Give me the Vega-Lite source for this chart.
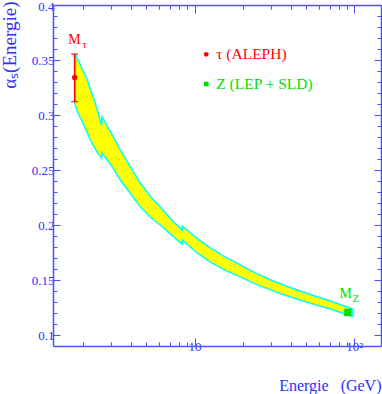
{
  "$schema": "https://vega.github.io/schema/vega-lite/v6.json",
  "width": 328,
  "height": 341,
  "autosize": "none",
  "padding": {"left": 53, "top": 5, "right": 1, "bottom": 48},
  "background": "white",
  "config": {
    "view": {"stroke": null},
    "axis": {
      "grid": false,
      "labelFont": "Liberation Serif",
      "titleFont": "Liberation Serif",
      "titleFontWeight": "normal",
      "labelColor": "#3030ff",
      "titleColor": "#3030ff",
      "domainColor": "#5050ff",
      "tickColor": "#5050ff",
      "domainWidth": 1.5,
      "tickWidth": 1,
      "labelFlush": false,
      "labelOverlap": false
    }
  },
  "datasets": {
    "band": [
      {"x": 1.777, "lo": 0.311, "hi": 0.356},
      {"x": 1.85, "lo": 0.303, "hi": 0.351},
      {"x": 1.92, "lo": 0.298, "hi": 0.346},
      {"x": 2.01, "lo": 0.292, "hi": 0.340},
      {"x": 2.13, "lo": 0.284, "hi": 0.332},
      {"x": 2.22, "lo": 0.278, "hi": 0.324},
      {"x": 2.35, "lo": 0.271, "hi": 0.314},
      {"x": 2.46, "lo": 0.266, "hi": 0.305},
      {"x": 2.62, "lo": 0.2605, "hi": 0.2905},
      {"x": 2.63, "lo": 0.2655, "hi": 0.2985},
      {"x": 3.0, "lo": 0.2546, "hi": 0.284},
      {"x": 3.43, "lo": 0.2409, "hi": 0.2682},
      {"x": 4.0, "lo": 0.228, "hi": 0.252},
      {"x": 4.57, "lo": 0.2167, "hi": 0.2382},
      {"x": 5.3, "lo": 0.207, "hi": 0.226},
      {"x": 6.1, "lo": 0.200, "hi": 0.2164},
      {"x": 7.1, "lo": 0.1915, "hi": 0.2055},
      {"x": 8.37, "lo": 0.1826, "hi": 0.1955},
      {"x": 8.39, "lo": 0.1862, "hi": 0.1991},
      {"x": 10.2, "lo": 0.1755, "hi": 0.1885},
      {"x": 12.5, "lo": 0.1665, "hi": 0.1795},
      {"x": 15.5, "lo": 0.159, "hi": 0.171},
      {"x": 19.3, "lo": 0.1528, "hi": 0.1638},
      {"x": 24.0, "lo": 0.1465, "hi": 0.1565},
      {"x": 29.8, "lo": 0.1410, "hi": 0.1502},
      {"x": 37.0, "lo": 0.1362, "hi": 0.1448},
      {"x": 45.9, "lo": 0.1318, "hi": 0.1400},
      {"x": 57.0, "lo": 0.1274, "hi": 0.1352},
      {"x": 70.7, "lo": 0.1236, "hi": 0.1309},
      {"x": 85.0, "lo": 0.1198, "hi": 0.1268},
      {"x": 98, "lo": 0.1168, "hi": 0.1236}
    ],
    "tau": [{"x": 1.777, "y": 0.3341, "lo": 0.3121, "hi": 0.3553, "c": "tau"}],
    "z": [{"x": 91.19, "y": 0.1205, "c": "Z"}],
    "legend": [
      {"x": 11.84, "tx": 13.67, "y": 0.3552, "c": "tau", "label": "τ (ALEPH)"},
      {"x": 11.84, "tx": 13.67, "y": 0.3282, "c": "Z", "label": "Z (LEP + SLD)"}
    ],
    "mlabels": [
      {"x": 1.77, "y": 0.3685, "c": "tau", "sub": "τ"},
      {"x": 88.5, "y": 0.1370, "c": "Z", "sub": "Z"}
    ]
  },
  "resolve": {"axis": {"x": "independent", "y": "independent"}},
  "layer": [
    {
      "data": {"name": "band"},
      "mark": {"type": "area", "fill": "#ffff00", "stroke": "#00ffff", "strokeWidth": 1.5, "strokeJoin": "miter"},
      "encoding": {
        "x": {"field": "x", "type": "quantitative",
          "scale": {"type": "log", "domain": [1.3, 147], "nice": false},
          "axis": {
            "orient": "bottom",
            "values": [2,3,4,5,6,7,8,9,10,20,30,40,50,60,70,80,90,100],
            "tickSize": {"condition": {"test": "datum.value == 10 || datum.value == 100", "value": -8}, "value": -4},
            "labelExpr": "datum.value == 10 ? '10' : (datum.value == 100 ? '10²' : '')",
            "labelFontSize": 13,
            "labelPadding": 2,
            "title": "Energie\u00a0\u00a0\u00a0(GeV)",
            "titleFontSize": 16,
            "titleAnchor": "end",
            "titleAlign": "right",
            "titleBaseline": "alphabetic",
            "titleX": 328,
            "titleY": 44
          }
        },
        "y": {"field": "lo", "type": "quantitative",
          "scale": {"domain": [0.09, 0.4], "nice": false, "zero": false},
          "axis": {
            "orient": "left",
            "values": [0.1,0.11,0.12,0.13,0.14,0.15,0.16,0.17,0.18,0.19,0.2,0.21,0.22,0.23,0.24,0.25,0.26,0.27,0.28,0.29,0.3,0.31,0.32,0.33,0.34,0.35,0.36,0.37,0.38,0.39,0.4],
            "format": ".2~f",
            "labelExpr": "indexof([0.1,0.15,0.2,0.25,0.3,0.35,0.4], datum.value) >= 0 ? datum.label : ''",
            "tickSize": {"condition": {"test": "indexof([0.1,0.15,0.2,0.25,0.3,0.35,0.4], datum.value) >= 0", "value": -7}, "value": -4},
            "labelFontSize": 13,
            "labelPadding": 6,
            "labelBaseline": {"condition": {"test": "datum.value == 0.4", "value": "top"}, "value": "middle"},
            "labelOffset": {"condition": {"test": "datum.value == 0.4", "value": -5}, "value": 0},
            "title": "αₛ(Energie)",
            "titleFontSize": 19,
            "titleAngle": -90,
            "titleAlign": "right",
            "titleBaseline": "middle",
            "titleX": -44,
            "titleY": -4
          }
        },
        "y2": {"field": "hi"}
      }
    },
    {
      "data": {"name": "tau"},
      "mark": {"type": "rule", "color": "#ff0000", "strokeWidth": 1.5},
      "encoding": {
        "x": {"field": "x", "type": "quantitative",
          "axis": {
            "orient": "top",
            "values": [2,3,4,5,6,7,8,9,10,20,30,40,50,60,70,80,90,100],
            "tickSize": {"condition": {"test": "datum.value == 10 || datum.value == 100", "value": -8}, "value": -4},
            "labels": false,
            "title": null
          }
        },
        "y": {"field": "lo", "type": "quantitative",
          "axis": {
            "orient": "right",
            "values": [0.1,0.11,0.12,0.13,0.14,0.15,0.16,0.17,0.18,0.19,0.2,0.21,0.22,0.23,0.24,0.25,0.26,0.27,0.28,0.29,0.3,0.31,0.32,0.33,0.34,0.35,0.36,0.37,0.38,0.39,0.4],
            "tickSize": {"condition": {"test": "indexof([0.1,0.15,0.2,0.25,0.3,0.35,0.4], datum.value) >= 0", "value": -7}, "value": -4},
            "labels": false,
            "title": null
          }
        },
        "y2": {"field": "hi"}
      }
    },
    {
      "data": {"name": "tau"},
      "mark": {"type": "tick", "orient": "horizontal", "color": "#ff0000", "size": 7, "thickness": 1.5},
      "encoding": {
        "x": {"field": "x", "type": "quantitative", "axis": null},
        "y": {"field": "lo", "type": "quantitative", "axis": null}
      }
    },
    {
      "data": {"name": "tau"},
      "mark": {"type": "tick", "orient": "horizontal", "color": "#ff0000", "size": 7, "thickness": 1.5},
      "encoding": {
        "x": {"field": "x", "type": "quantitative", "axis": null},
        "y": {"field": "hi", "type": "quantitative", "axis": null}
      }
    },
    {
      "data": {"name": "tau"},
      "mark": {"type": "point", "shape": "circle", "filled": true, "color": "#ff0000", "size": 28, "opacity": 1},
      "encoding": {
        "x": {"field": "x", "type": "quantitative", "axis": null},
        "y": {"field": "y", "type": "quantitative", "axis": null}
      }
    },
    {
      "data": {"name": "z"},
      "mark": {"type": "point", "shape": "square", "filled": true, "color": "#00e000", "size": 56, "opacity": 1},
      "encoding": {
        "x": {"field": "x", "type": "quantitative", "axis": null},
        "y": {"field": "y", "type": "quantitative", "axis": null}
      }
    },
    {
      "data": {"name": "legend"},
      "mark": {"type": "point", "filled": true, "size": 22, "opacity": 1},
      "encoding": {
        "x": {"field": "x", "type": "quantitative", "axis": null},
        "y": {"field": "y", "type": "quantitative", "axis": null},
        "color": {"field": "c", "type": "nominal", "scale": {"domain": ["tau", "Z"], "range": ["#ff0000", "#00e000"]}, "legend": null},
        "shape": {"field": "c", "type": "nominal", "scale": {"domain": ["tau", "Z"], "range": ["circle", "square"]}, "legend": null}
      }
    },
    {
      "data": {"name": "legend"},
      "mark": {"type": "text", "align": "left", "baseline": "middle", "font": "Liberation Serif", "fontSize": 15.5},
      "encoding": {
        "x": {"field": "tx", "type": "quantitative", "axis": null},
        "y": {"field": "y", "type": "quantitative", "axis": null},
        "text": {"field": "label"},
        "color": {"field": "c", "type": "nominal", "legend": null}
      }
    },
    {
      "data": {"name": "mlabels"},
      "mark": {"type": "text", "align": "center", "baseline": "middle", "font": "Liberation Serif", "fontSize": 14},
      "encoding": {
        "x": {"field": "x", "type": "quantitative", "axis": null},
        "y": {"field": "y", "type": "quantitative", "axis": null},
        "text": {"value": "M"},
        "color": {"field": "c", "type": "nominal", "legend": null}
      }
    },
    {
      "data": {"name": "mlabels"},
      "mark": {"type": "text", "align": "center", "baseline": "middle", "font": "Liberation Serif", "fontSize": 11, "dx": 10, "dy": 5},
      "encoding": {
        "x": {"field": "x", "type": "quantitative", "axis": null},
        "y": {"field": "y", "type": "quantitative", "axis": null},
        "text": {"field": "sub"},
        "color": {"field": "c", "type": "nominal", "legend": null}
      }
    }
  ]
}
